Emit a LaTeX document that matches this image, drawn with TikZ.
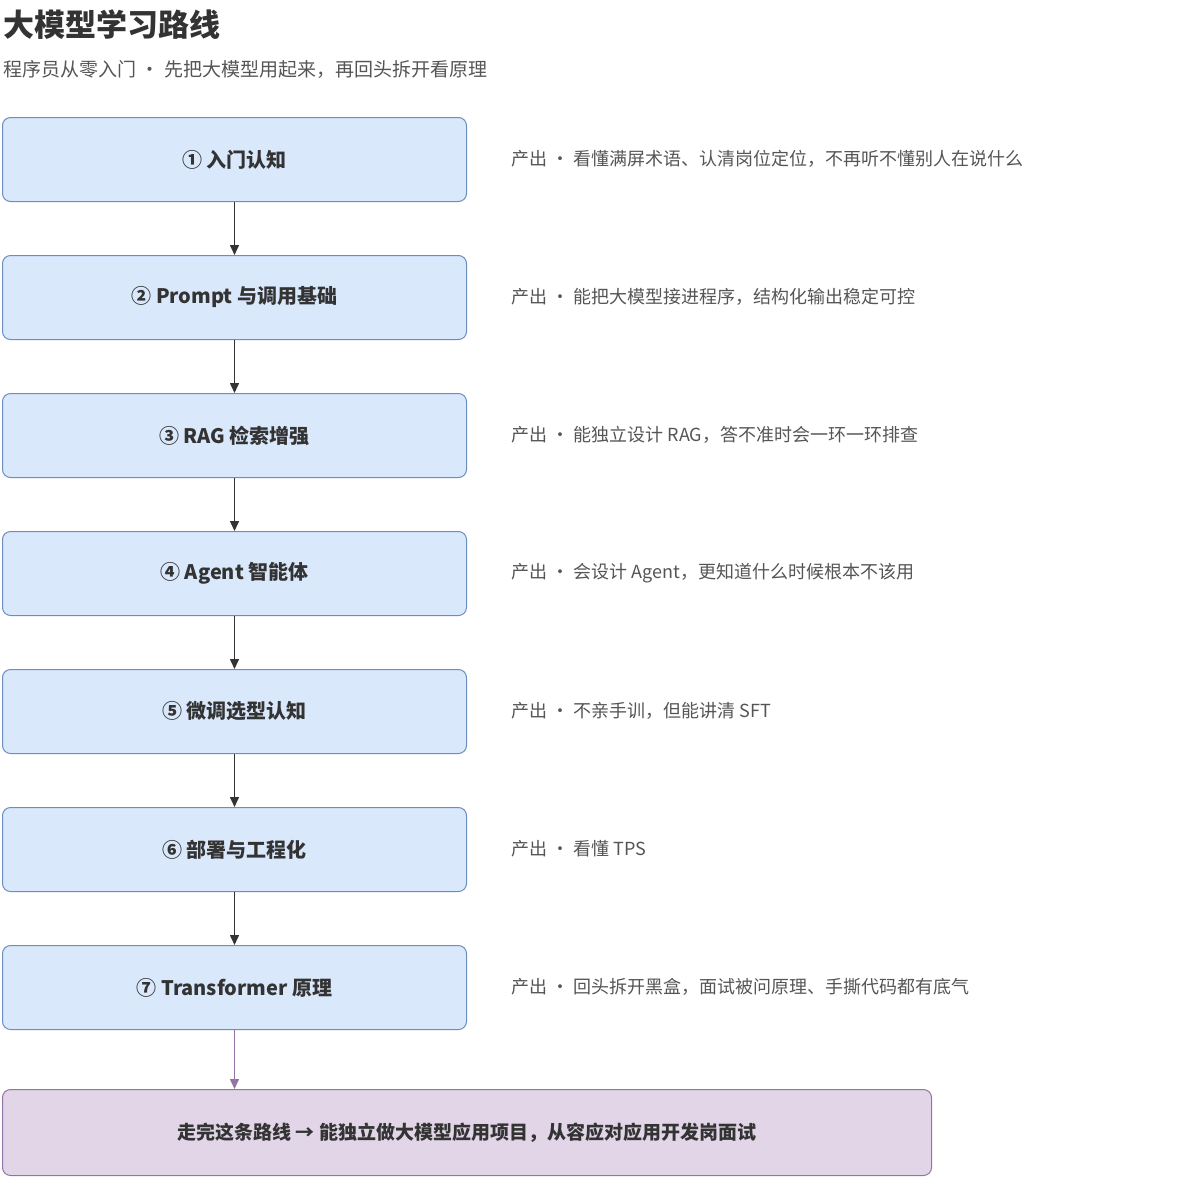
\documentclass[tikz,border=0pt]{standalone}
\usepackage{fontspec}
\setmainfont{Noto Sans CJK SC}
\usetikzlibrary{arrows.meta}
\definecolor{bfill}{HTML}{DAE8FC}\definecolor{bdraw}{HTML}{6C8EBF}
\definecolor{pfill}{HTML}{E1D5E7}\definecolor{pdraw}{HTML}{9673A6}
\definecolor{txt}{HTML}{333333}\definecolor{sub}{HTML}{555555}
\begin{document}
\begin{tikzpicture}[x=1pt,y=-1pt,
 stagebox/.style={draw=bdraw,fill=bfill,rounded corners=8pt,line width=1pt,minimum width=464pt,minimum height=84pt,font=\fontsize{20}{24}\selectfont\bfseries,text=txt,anchor=north west},
 outtext/.style={anchor=west,font=\fontsize{18}{22}\selectfont,text=sub},
 arr/.style={-{Triangle[length=10pt,width=9pt]},line width=1.5pt,draw=txt}]
\useasboundingbox (0,0) rectangle (1189,1179);
\node[anchor=west,font=\fontsize{31}{36}\selectfont\bfseries,text=txt] (title) at (0,25) {大模型学习路线};
\node[anchor=west,font=\fontsize{19}{23}\selectfont,text=sub] (subt) at (0,69) {程序员从零入门 · 先把大模型用起来，再回头拆开看原理};
\foreach \i/\t/\o in {1/① 入门认知/产出 · 看懂满屏术语、认清岗位定位，不再听不懂别人在说什么,
 2/② Prompt 与调用基础/产出 · 能把大模型接进程序，结构化输出稳定可控,
 3/③ RAG 检索增强/产出 · 能独立设计 RAG，答不准时会一环一环排查,
 4/④ Agent 智能体/产出 · 会设计 Agent，更知道什么时候根本不该用,
 5/⑤ 微调选型认知/产出 · 不亲手训，但能讲清 SFT / LoRA / RLHF 的适用边界,
 6/⑥ 部署与工程化/产出 · 看懂 TPS / 首字延迟，把 Demo 推上能扛流量的线,
 7/⑦ Transformer 原理/产出 · 回头拆开黑盒，面试被问原理、手撕代码都有底气}{
 \node[stagebox] (s\i) at (2,{117+138*(\i-1)}) {\t};
 \node[outtext] (o\i) at (508,{159+138*(\i-1)}) {\o};
}
\foreach \i [evaluate=\i as \j using int(\i+1)] in {1,...,6}{\draw[arr] (s\i.south) -- (s\j.north);}
\node[draw=pdraw,fill=pfill,rounded corners=8pt,line width=1pt,minimum width=929pt,minimum height=86pt,anchor=north west,font=\fontsize{19}{23}\selectfont\bfseries,text=txt] (fin) at (2,1089) {走完这条路线 → 能独立做大模型应用项目，从容应对应用开发岗面试};
\draw[arr,draw=pdraw] (s7.south) -- (s7.south|-fin.north);
\end{tikzpicture}
\end{document}
